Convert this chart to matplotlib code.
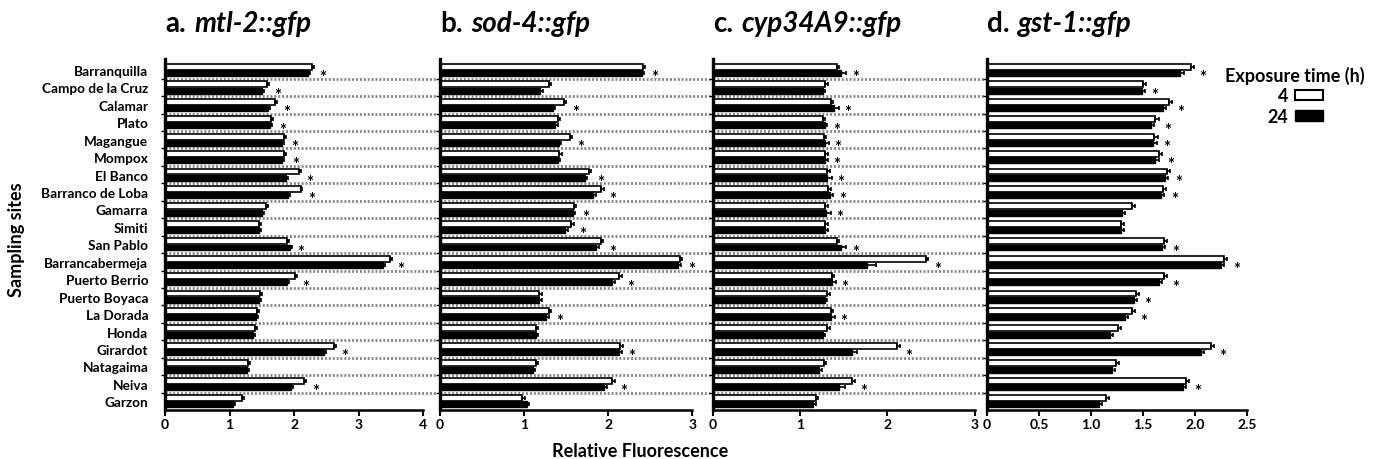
import matplotlib
matplotlib.use("Agg")
import matplotlib.pyplot as plt
from matplotlib.patches import Patch
import numpy as np

plt.rcParams["font.family"] = ["Lato", "DejaVu Sans"]
plt.rcParams["font.weight"] = "bold"

# ----------------------------- DATA -----------------------------
sites = ["Barranquilla", "Campo de la Cruz", "Calamar", "Plato", "Magangue",
         "Mompox", "El Banco", "Barranco de Loba", "Gamarra", "Simiti",
         "San Pablo", "Barrancabermeja", "Puerto Berrio", "Puerto Boyaca",
         "La Dorada", "Honda", "Girardot", "Natagaima", "Neiva", "Garzon"]

mtl_4h = [2.28, 1.58, 1.71, 1.65, 1.84, 1.85, 2.07, 2.10, 1.56, 1.46,
          1.89, 3.49, 2.01, 1.48, 1.43, 1.40, 2.62, 1.28, 2.16, 1.20]
mtl_24h = [2.22, 1.50, 1.60, 1.63, 1.81, 1.81, 1.87, 1.91, 1.50, 1.46,
           1.94, 3.38, 1.89, 1.46, 1.41, 1.36, 2.47, 1.27, 1.96, 1.06]
mtl_star = [1, 1, 1, 1, 1, 1, 1, 1, 0, 0, 1, 1, 1, 0, 0, 0, 1, 0, 1, 0]

sod_4h = [2.41, 1.29, 1.47, 1.40, 1.54, 1.42, 1.77, 1.92, 1.59, 1.56,
          1.91, 2.85, 2.13, 1.18, 1.29, 1.14, 2.14, 1.14, 2.05, 0.98]
sod_24h = [2.40, 1.19, 1.34, 1.37, 1.41, 1.40, 1.72, 1.82, 1.58, 1.49,
           1.86, 2.83, 2.05, 1.18, 1.26, 1.14, 2.13, 1.10, 1.95, 1.03]
sod_star = [1, 0, 1, 0, 1, 0, 1, 1, 1, 1, 1, 1, 1, 0, 1, 0, 1, 0, 1, 0]

cyp_4h = [1.42, 1.29, 1.35, 1.26, 1.27, 1.29, 1.31, 1.32, 1.29, 1.29,
          1.42, 2.44, 1.36, 1.31, 1.35, 1.31, 2.11, 1.27, 1.60, 1.18]
cyp_24h = [1.47, 1.26, 1.39, 1.28, 1.29, 1.29, 1.31, 1.34, 1.30, 1.29,
           1.47, 1.77, 1.36, 1.28, 1.35, 1.26, 1.59, 1.22, 1.45, 1.15]
cyp_star = [1, 0, 1, 1, 1, 1, 1, 1, 1, 0, 1, 1, 1, 0, 1, 0, 1, 0, 1, 0]

gst_4h = [1.96, 1.50, 1.75, 1.62, 1.61, 1.65, 1.73, 1.69, 1.39, 1.29,
          1.70, 2.28, 1.70, 1.43, 1.39, 1.26, 2.15, 1.24, 1.91, 1.14]
gst_24h = [1.86, 1.49, 1.69, 1.58, 1.60, 1.62, 1.71, 1.67, 1.30, 1.29,
           1.68, 2.25, 1.65, 1.41, 1.33, 1.18, 2.06, 1.20, 1.88, 1.08]
gst_star = [1, 1, 1, 1, 1, 1, 1, 1, 0, 0, 1, 1, 1, 1, 1, 0, 1, 0, 1, 0]

# standard errors (small, read roughly off the caps)
err_small = [0.03] * 20
cyp_err24 = [0.06, 0.03, 0.05, 0.03, 0.04, 0.03, 0.05, 0.04, 0.05, 0.03,
             0.06, 0.10, 0.05, 0.03, 0.05, 0.03, 0.06, 0.03, 0.06, 0.03]

panels = [
    ("a.", "mtl-2::gfp", mtl_4h, mtl_24h, err_small, err_small, mtl_star, [0, 1, 2, 3, 4], ["0", "1", "2", "3", "4"], 4.2),
    ("b.", "sod-4::gfp", sod_4h, sod_24h, err_small, err_small, sod_star, [0, 1, 2, 3], ["0", "1", "2", "3"], 3.21),
    ("c.", "cyp34A9::gfp", cyp_4h, cyp_24h, err_small, cyp_err24, cyp_star, [0, 1, 2, 3], ["0", "1", "2", "3"], 3.12),
    ("d.", "gst-1::gfp", gst_4h, gst_24h, err_small, err_small, gst_star,
     [0, 0.5, 1.0, 1.5, 2.0, 2.5], ["0", "0.5", "1.0", "1.5", "2.0", "2.5"], 2.5),
]

# axes placement in pixels (left, right) of a 1376x460 canvas
AX_X = [(165, 436), (440, 710), (713, 985), (987, 1247)]
AX_TOP, AX_BOTTOM = 60, 411
W, H = 1376, 460

# ----------------------------- PLOT -----------------------------
fig = plt.figure(figsize=(13.76, 4.6), dpi=100)
y = np.arange(len(sites))
bar_h = 0.34
off = 0.18

for i, (letter, gene, v4, v24, e4, e24, star, ticks, tlabels, xmax) in enumerate(panels):
    x0, x1 = AX_X[i]
    ax = fig.add_axes([x0 / W, 1 - AX_BOTTOM / H, (x1 - x0) / W, (AX_BOTTOM - AX_TOP) / H])

    # dotted separators between sites (not in last panel)
    if i < 3:
        for b in y[:-1] + 0.5:
            ax.axhline(b, color="#858585", lw=2.0, ls=(0, (0.7, 0.7)), zorder=0)

    ax.barh(y - off, v4, height=bar_h, color="white", edgecolor="black", lw=1.2, zorder=2)
    ax.barh(y + off, v24, height=bar_h, color="black", edgecolor="black", lw=1.0, zorder=2)
    ax.errorbar(v4, y - off, xerr=[[0] * len(y), e4], fmt="none", ecolor="black",
                elinewidth=1.2, capsize=1.5, capthick=1.2, zorder=3)
    ax.errorbar(v24, y + off, xerr=[[0] * len(y), e24], fmt="none", ecolor="black",
                elinewidth=1.2, capsize=1.5, capthick=1.2, zorder=3)

    for k in range(len(y)):
        if star[k]:
            xs = max(v4[k] + e4[k], v24[k] + e24[k])
            ax.annotate("*", xy=(xs, y[k] + off), xytext=(4, -3), textcoords="offset points",
                        ha="left", va="center", fontsize=12, fontweight="bold")

    ax.set_xlim(0, xmax)
    ax.set_ylim(len(sites) - 0.5, -0.63)
    ax.set_xticks(ticks)
    ax.set_xticklabels(tlabels, fontsize=10, fontweight="bold")
    ax.spines["bottom"].set_bounds(0, ticks[-1])
    ax.spines["top"].set_visible(False)
    ax.spines["right"].set_visible(False)
    ax.spines["left"].set_linewidth(2.4)
    ax.spines["bottom"].set_linewidth(1.8)
    ax.tick_params(axis="x", length=4, width=1.5, pad=2)
    ax.set_yticks(y[:-1] + 0.5, minor=True)
    ax.tick_params(axis="y", which="minor", length=3, width=1)
    if i == 0:
        ax.set_yticks(y)
        ax.set_yticklabels(sites, fontsize=9.8, fontweight="bold")
        ax.tick_params(axis="y", which="major", length=0, pad=12)
    else:
        ax.set_yticks([])

    t1 = ax.text(0, 1.08, letter, transform=ax.transAxes, fontsize=20,
                 fontweight="bold", ha="left", va="baseline")
    ax.annotate(gene, xy=(1, 0), xycoords=t1, xytext=(6, 0), textcoords="offset points",
                fontsize=20, fontweight="bold", fontstyle="italic", ha="left", va="bottom")

fig.text(17 / W, 1 - 240 / H, "Sampling sites", rotation=90, ha="center", va="center",
         fontsize=13, fontweight="bold")
fig.text(640 / W, 1 - 452 / H, "Relative Fluorescence", ha="center", va="center",
         fontsize=13, fontweight="bold")

handles = [Patch(facecolor="white", edgecolor="black", lw=1.5),
           Patch(facecolor="black", edgecolor="black")]
leg = fig.legend(handles, ["4", "24"], title="Exposure time (h)", markerfirst=False,
                 frameon=False, loc="upper center", bbox_to_anchor=(1295 / W, 1 - 54 / H),
                 fontsize=13, title_fontsize=13, handlelength=1.5, handleheight=0.55,
                 labelspacing=0.2, handletextpad=0.4, borderpad=0.2)
leg.get_title().set_fontweight("bold")

fig.savefig("out.png", dpi=100)
